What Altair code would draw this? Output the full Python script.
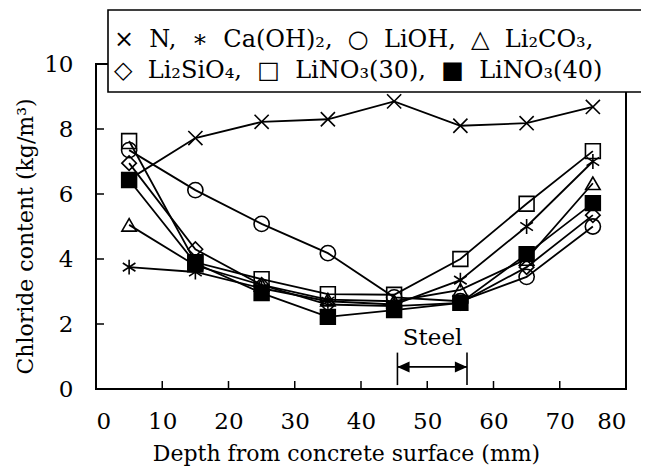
import altair as alt
import pandas as pd

# ---- data ----
depth = [5, 15, 25, 35, 45, 55, 65, 75]
series_names = ["N", "Ca(OH)2", "LiOH", "Li2CO3", "Li2SiO4", "LiNO3(30)", "LiNO3(40)"]
N = [6.45, 7.72, 8.22, 8.30, 8.85, 8.10, 8.18, 8.68]
CaOH2 = [3.75, 3.60, 3.10, 2.70, 2.60, 3.35, 5.00, 7.00]
LiOH = [7.35, 6.12, 5.08, 4.18, 2.82, 2.70, 3.45, 5.00]
Li2CO3 = [5.05, 3.80, 3.20, 2.75, 2.70, 3.05, 4.00, 6.33]
Li2SiO4 = [6.95, 4.30, 3.20, 2.60, 2.55, 2.65, 3.75, 5.35]
LiNO3_30 = [7.63, 3.90, 3.38, 2.92, 2.90, 4.00, 5.70, 7.32]
LiNO3_40 = [6.43, 3.87, 2.95, 2.22, 2.43, 2.65, 4.15, 5.72]
values = [N, CaOH2, LiOH, Li2CO3, Li2SiO4, LiNO3_30, LiNO3_40]

legend_row1 = "×\u00a0\u00a0N,\u00a0\u00a0∗\u00a0\u00a0Ca(OH)₂,\u00a0\u00a0○\u00a0\u00a0LiOH,\u00a0\u00a0△\u00a0\u00a0Li₂CO₃,"
legend_row2 = "◇\u00a0\u00a0Li₂SiO₄,\u00a0\u00a0□\u00a0\u00a0LiNO₃(30),\u00a0\u00a0■\u00a0\u00a0LiNO₃(40)"

x_ticks = [10, 20, 30, 40, 50, 60, 70]
y_ticks = [2, 4, 6, 8]
steel_start, steel_end, steel_y = 45.5, 56.0, 0.68

FONT = "DejaVu Serif"
W, H = 530, 325

X_PATH = "M-1,-1L1,1M-1,1L1,-1"
AST_PATH = "M0,-1L0,1M-0.85,-0.55L0.85,0.55M-0.85,0.55L0.85,-0.55"
shapes = {
    "N": (X_PATH, False, 200),
    "Ca(OH)2": (AST_PATH, False, 220),
    "LiOH": ("circle", False, 230),
    "Li2CO3": ("triangle-up", False, 210),
    "Li2SiO4": ("diamond", False, 210),
    "LiNO3(30)": ("square", False, 220),
    "LiNO3(40)": ("square", True, 220),
}

rows = []
for name, vals in zip(series_names, values):
    for d, v in zip(depth, vals):
        rows.append({"series": name, "depth": d, "cl": v})
df = pd.DataFrame(rows)

xs = alt.Scale(domain=[0, 80], nice=False)
ys = alt.Scale(domain=[0, 10], nice=False)

layers = []

lines = alt.Chart(df).mark_line(color="black", strokeWidth=1.8).encode(
    x=alt.X("depth:Q", scale=xs,
            axis=alt.Axis(values=[0, 10, 20, 30, 40, 50, 60, 70, 80], format="d",
                          title="Depth from concrete surface (mm)",
                          titleX=250, titleY=64, titleBaseline="middle")),
    y=alt.Y("cl:Q", scale=ys,
            axis=alt.Axis(values=[0, 2, 4, 6, 8, 10], format="d",
                          title="Chloride content (kg/m³)",
                          titleX=-71, titleY=172, titleAngle=270,
                          titleBaseline="middle", titleAlign="center")),
    detail="series:N",
)
layers.append(lines)

for name in series_names:
    shp, filled, size = shapes[name]
    pts = alt.Chart(df[df.series == name]).mark_point(
        shape=shp, filled=filled, size=size, color="black",
        fill="black" if filled else "transparent",
        stroke="black", strokeWidth=1.6, opacity=1,
    ).encode(x=alt.X("depth:Q", scale=xs), y=alt.Y("cl:Q", scale=ys))
    layers.append(pts)

# inward ticks
xt = alt.Chart(pd.DataFrame({"v": x_ticks})).mark_rule(color="black", strokeWidth=1.5).encode(
    x=alt.X("v:Q", scale=xs), y=alt.value(H), y2=alt.value(H - 8))
yt = alt.Chart(pd.DataFrame({"v": y_ticks})).mark_rule(color="black", strokeWidth=1.5).encode(
    y=alt.Y("v:Q", scale=ys), x=alt.value(0), x2=alt.value(8))
layers += [xt, yt]

# Steel annotation
steel_df = pd.DataFrame({"x": [steel_start, steel_end], "y": [steel_y, steel_y]})
vlines = alt.Chart(steel_df).mark_rule(color="black", strokeWidth=1.6).encode(
    x=alt.X("x:Q", scale=xs), y=alt.Y("y:Q", scale=ys), y2=alt.datum(0.12))
vlines2 = alt.Chart(steel_df).mark_rule(color="black", strokeWidth=1.6).encode(
    x=alt.X("x:Q", scale=xs), y=alt.Y("y:Q", scale=ys), y2=alt.datum(1.12))
arrow_line = alt.Chart(pd.DataFrame({"x": [steel_start], "x2": [steel_end], "y": [steel_y]})).mark_rule(
    color="black", strokeWidth=1.6).encode(
    x=alt.X("x:Q", scale=xs), x2="x2:Q", y=alt.Y("y:Q", scale=ys))
head_l = alt.Chart(pd.DataFrame({"x": [steel_start], "y": [steel_y]})).mark_point(
    shape="M-1,0L1,-0.9L1,0.9Z", filled=True, color="black", size=150, opacity=1, xOffset=6).encode(
    x=alt.X("x:Q", scale=xs), y=alt.Y("y:Q", scale=ys))
head_r = alt.Chart(pd.DataFrame({"x": [steel_end], "y": [steel_y]})).mark_point(
    shape="M1,0L-1,-0.9L-1,0.9Z", filled=True, color="black", size=150, opacity=1, xOffset=-6).encode(
    x=alt.X("x:Q", scale=xs), y=alt.Y("y:Q", scale=ys))
steel_txt = alt.Chart(pd.DataFrame({"x": [50.8], "y": [1.57], "t": ["Steel"]})).mark_text(
    font=FONT, fontSize=23, color="black").encode(
    x=alt.X("x:Q", scale=xs), y=alt.Y("y:Q", scale=ys), text="t:N")
layers += [vlines, vlines2, arrow_line, head_l, head_r, steel_txt]

# legend box and two text rows (pixel layout relative to plot origin)
box = alt.Chart(pd.DataFrame({"a": [0]})).mark_rect(
    fill="white", stroke="black", strokeWidth=1.6).encode(
    x=alt.value(12), x2=alt.value(548), y=alt.value(-54), y2=alt.value(28))
layers.append(box)

for txt_row, yy in [(legend_row1, -24), (legend_row2, 7)]:
    t = alt.Chart(pd.DataFrame({"t": [txt_row]})).mark_text(
        font=FONT, fontSize=24, color="black", align="left", baseline="middle").encode(
        x=alt.value(18), y=alt.value(yy), text="t:N")
    layers.append(t)

chart = alt.layer(*layers).properties(
    width=W, height=H,
    padding={"left": 88, "top": 56, "right": 15, "bottom": 90},
    autosize=alt.AutoSizeParams(type="none"),
).configure_view(stroke="black", strokeWidth=2).configure_axis(
    labelFont=FONT, titleFont=FONT, labelFontSize=23, titleFontSize=22,
    titleFontWeight="normal", labelColor="black", titleColor="black",
    grid=False, domain=False, ticks=False, tickSize=0,
).configure_axisX(labelPadding=21).configure_axisY(labelPadding=23)

chart.save("out.html", embed_options={"renderer": "svg", "actions": False})
